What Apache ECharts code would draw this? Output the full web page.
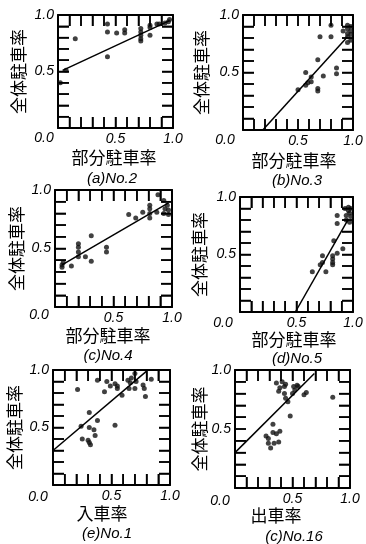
<!DOCTYPE html>
<html><head><meta charset="utf-8">
<script src="https://cdn.jsdelivr.net/npm/echarts@6/dist/echarts.min.js"></script>
<style>html,body{margin:0;padding:0;background:#fff}#c{width:366px;height:544px}</style>
</head><body><div id="c"></div>
<script>
// ---- data ----
const pointsA = [[0.02,0.40],[0.07,0.51],[0.15,0.79],[0.43,0.92],[0.43,0.85],[0.43,0.63],[0.51,0.84],[0.58,0.87],[0.58,0.84],[0.72,0.88],[0.72,0.85],[0.72,0.82],[0.72,0.79],[0.72,0.77],[0.80,0.91],[0.80,0.89],[0.80,0.82],[0.86,0.92],[0.88,0.92],[0.93,0.93],[0.96,0.94],[0.97,0.96]];
const pointsB = [[0.80,0.91],[0.70,0.81],[0.80,0.81],[0.68,0.61],[0.57,0.50],[0.85,0.54],[0.85,0.49],[0.73,0.47],[0.62,0.46],[0.62,0.42],[0.57,0.39],[0.59,0.41],[0.50,0.35],[0.68,0.36],[0.68,0.34],[0.95,0.91],[0.98,0.90],[0.95,0.88],[0.98,0.86],[0.95,0.84],[0.98,0.83],[0.95,0.81],[0.98,0.78],[0.95,0.76],[0.91,0.86]];
const pointsC = [[0.06,0.36],[0.06,0.34],[0.07,0.38],[0.14,0.35],[0.20,0.54],[0.20,0.51],[0.20,0.47],[0.20,0.43],[0.26,0.43],[0.31,0.61],[0.31,0.39],[0.44,0.51],[0.44,0.47],[0.63,0.79],[0.69,0.76],[0.75,0.81],[0.81,0.87],[0.81,0.84],[0.81,0.80],[0.81,0.76],[0.88,0.96],[0.87,0.81],[0.93,0.91],[0.96,0.87],[0.94,0.84],[0.97,0.83],[0.93,0.80],[0.97,0.79]];
const pointsD = [[0.64,0.35],[0.73,0.49],[0.73,0.43],[0.71,0.41],[0.76,0.35],[0.82,0.49],[0.82,0.46],[0.82,0.43],[0.82,0.41],[0.83,0.62],[0.86,0.51],[0.91,0.55],[0.86,0.77],[0.86,0.84],[0.93,0.90],[0.96,0.88],[0.97,0.86],[0.94,0.84],[0.98,0.83],[0.94,0.80],[0.97,0.78],[0.96,0.91],[0.98,0.90]];
const pointsE = [[0.21,0.83],[0.38,0.91],[0.24,0.51],[0.25,0.40],[0.31,0.63],[0.31,0.50],[0.30,0.39],[0.31,0.37],[0.32,0.35],[0.35,0.48],[0.36,0.43],[0.38,0.56],[0.44,0.81],[0.46,0.90],[0.49,0.86],[0.53,0.88],[0.55,0.86],[0.55,0.84],[0.53,0.52],[0.59,0.78],[0.64,0.91],[0.67,0.93],[0.66,0.89],[0.65,0.84],[0.70,0.97],[0.70,0.84],[0.71,0.90],[0.77,0.87],[0.78,0.84],[0.79,0.77],[0.84,0.92]];
const pointsF = [[0.36,0.89],[0.39,0.85],[0.38,0.82],[0.41,0.90],[0.43,0.86],[0.44,0.88],[0.43,0.80],[0.44,0.76],[0.46,0.73],[0.51,0.86],[0.54,0.87],[0.55,0.86],[0.52,0.83],[0.50,0.80],[0.60,0.79],[0.62,0.81],[0.48,0.61],[0.85,0.77],[0.29,0.42],[0.33,0.47],[0.27,0.44],[0.29,0.38],[0.31,0.34],[0.34,0.38],[0.38,0.39],[0.39,0.48],[0.33,0.54],[0.36,0.46]];

const lineA = [[0.04,0.51],[0.97,0.95]];
const lineB = [[0.18,0.00],[0.95,0.81]];
const lineC = [[0.06,0.36],[0.97,0.89]];
const lineD = [[0.49,0.00],[0.96,0.81]];
const lineE = [[0.00,0.30],[0.80,0.99]];
const lineF = [[0.00,0.30],[0.69,0.97]];

const xNames = ['部分駐車率','部分駐車率','部分駐車率','部分駐車率','入車率','出車率'];
const yName = '全体駐車率';
const captions = ['(a)No.2','(b)No.3','(c)No.4','(d)No.5','(e)No.1','(c)No.16'];
const tickValues = [0, 0.5, 1];
const tickTexts = ['0.0','0.5','1.0'];
const tickPositions = [0.1,0.2,0.3,0.4,0.5,0.6,0.7,0.8,0.9];

const allPoints = [pointsA,pointsB,pointsC,pointsD,pointsE,pointsF];
const allLines = [lineA,lineB,lineC,lineD,lineE,lineF];

// ---- layout ----
const layout = [
  {box:[58,15,115,113], yGap:31, zero:[44,138], xname:[114,158], cap:[112,171]},
  {box:[243,15,110,115], yGap:33, zero:[225,140], xname:[294,161], cap:[297,173]},
  {box:[55,190,117,117], yGap:30, zero:[39,315], xname:[108,336], cap:[108,348]},
  {box:[240,197,113,115], yGap:32, zero:[223,323], xname:[294,340], cap:[297,351]},
  {box:[53,370,117,115], yGap:30, zero:[38,497], xname:[102,514], cap:[107,526]},
  {box:[235,370,115,118], yGap:27, zero:[220,501], xname:[276,516], cap:[294,529]}
];
const TICK_LEN = 11;

const LATIN = '"Liberation Sans", Arial, sans-serif';
const CJK = '"Noto Sans CJK JP", sans-serif';
const near = (a,b)=>Math.abs(a-b)<1e-6;
function labelText(v){
  for (let k=1;k<tickValues.length;k++){
    if (near(v,tickValues[k])) return tickTexts[k];
  }
  return '';
}
function mkCommon(i){
  return {type:'value', min:0, max:1, interval:0.1, gridIndex:i,
    axisLine:{show:true, onZero:false, lineStyle:{color:'#000', width:2}},
    splitLine:{show:false},
    axisTick:{show:true, inside:true, length:TICK_LEN, lineStyle:{color:'#000', width:1.5}}};
}
function txt(text, cx, top, font, size, italic){
  return {text, left:cx, top, textAlign:'center', padding:0,
    textStyle:{fontFamily:font, fontStyle:italic?'italic':'normal', fontWeight:'normal', fontSize:size, color:'#000'}};
}
// inner tick marks on all four sides, placed through the axis scales
function renderTicks(params, api){
  const v = api.value(0);
  const b = api.coord([v,0]), t = api.coord([v,1]);
  const l = api.coord([0,v]), r = api.coord([1,v]);
  const st = {stroke:'#000', lineWidth:1.5};
  return {type:'group', children:[
    {type:'line', shape:{x1:b[0], y1:b[1], x2:b[0], y2:b[1]-TICK_LEN}, style:st},
    {type:'line', shape:{x1:t[0], y1:t[1], x2:t[0], y2:t[1]+TICK_LEN}, style:st},
    {type:'line', shape:{x1:l[0], y1:l[1], x2:l[0]+TICK_LEN, y2:l[1]}, style:st},
    {type:'line', shape:{x1:r[0], y1:r[1], x2:r[0]-TICK_LEN, y2:r[1]}, style:st}
  ]};
}

const grid=[], xAxis=[], yAxis=[], series=[], title=[];
layout.forEach((L,i)=>{
  grid.push({left:L.box[0], top:L.box[1], width:L.box[2], height:L.box[3]});
  xAxis.push(Object.assign(mkCommon(i), {position:'bottom',
    axisLabel:{show:true, margin:4, fontFamily:LATIN, fontStyle:'italic', fontSize:14, color:'#000',
      formatter:labelText}}));
  xAxis.push(Object.assign(mkCommon(i), {position:'top', axisLabel:{show:false}}));
  yAxis.push(Object.assign(mkCommon(i), {position:'left',
    name:yName, nameLocation:'middle', nameGap:L.yGap,
    nameTextStyle:{fontFamily:CJK, fontSize:17, color:'#000'},
    axisLabel:{show:true, margin:4, fontFamily:LATIN, fontStyle:'italic', fontSize:14, color:'#000',
      formatter:labelText}}));
  yAxis.push(Object.assign(mkCommon(i), {position:'right', axisLabel:{show:false}}));
  series.push({type:'custom', coordinateSystem:'cartesian2d', xAxisIndex:2*i, yAxisIndex:2*i,
    data:tickPositions.map(v=>[v,v]), renderItem:renderTicks, silent:true, clip:false, z:5});
  series.push({type:'scatter', xAxisIndex:2*i, yAxisIndex:2*i, data:allPoints[i],
    symbol:'circle', symbolSize:5, itemStyle:{color:'#111'}});
  series.push({type:'line', xAxisIndex:2*i, yAxisIndex:2*i, data:allLines[i],
    symbol:'none', lineStyle:{color:'#000', width:1.5}});
  title.push(txt(tickTexts[0], L.zero[0], L.zero[1]-7, LATIN, 14, true));
  title.push(txt(xNames[i], L.xname[0], L.xname[1]-9, CJK, 17, false));
  title.push(txt(captions[i], L.cap[0], L.cap[1], LATIN, 15, true));
});

const chart = echarts.init(document.getElementById('c'));
chart.setOption({animation:false, title, grid, xAxis, yAxis, series});
</script>
</body></html>
